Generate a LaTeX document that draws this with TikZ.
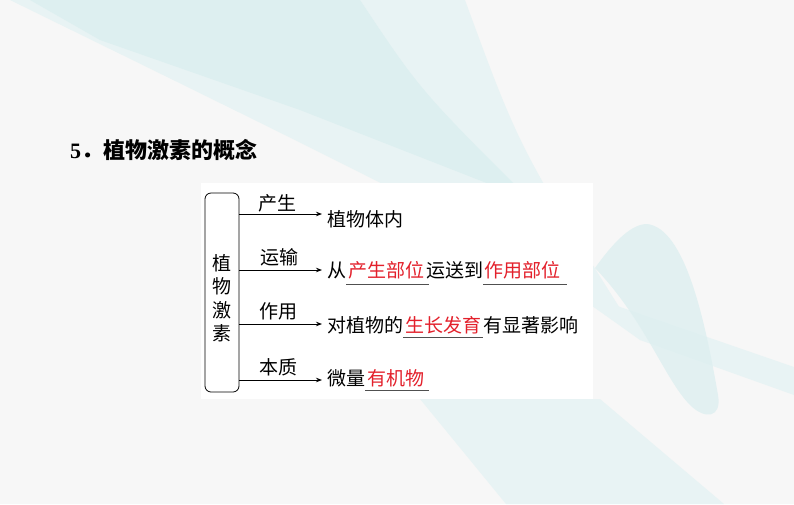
\documentclass[tikz,border=0pt]{standalone}
\usepackage{fontspec}
\setmainfont{Liberation Serif}
\newfontfamily\cjk{Noto Sans CJK SC}
\usetikzlibrary{arrows.meta}
\definecolor{bgcol}{HTML}{F7F7F7}
\definecolor{tealA}{HTML}{DDEFF0}
\definecolor{tealB}{HTML}{E8F3F4}
\definecolor{hlred}{HTML}{E3202B}
\definecolor{ulcol}{HTML}{505050}
\begin{document}
\begin{tikzpicture}[x=1pt,y=-1pt,
  txt/.style={inner sep=0pt, anchor=west, font=\cjk\fontsize{19}{19}\selectfont},
  redtxt/.style={txt, text=hlred, inner xsep=1.5pt},
  lbl/.style={inner sep=0pt, font=\cjk\fontsize{19}{19}\selectfont},
  arr/.style={-{Stealth[length=6pt,width=4.5pt]}, line width=0.8pt},
  uline/.style={draw=ulcol, line width=0.8pt}]
\useasboundingbox (0,0) rectangle (794,504);
% background
\fill[bgcol] (0,0) rectangle (794,504);
\fill[tealB] (10,0) -- (465,0) .. controls (520,150) .. (640,340) .. controls (500,240) .. (10,0) -- cycle;
\fill[tealA] (30,0) -- (360,0) .. controls (420,90) .. (530,200) -- (300,110) -- (100,40) -- cycle;
\fill[tealB] (420,399) -- (600,399) -- (724,504) -- (506,504) -- cycle;
\fill[tealB] (600,300) -- (794,367) -- (794,395) -- (640,340) -- cycle;
\fill[tealA, opacity=0.8] (595,268) .. controls (615,240) and (632,224) .. (647,224) .. controls (685,228) and (705,320) .. (718,395) .. controls (722,418) and (705,420) .. (690,405) .. controls (665,380) and (645,320) .. (595,268) -- cycle;
% title
\node[anchor=west, inner sep=0pt, font=\fontsize{22}{22}\selectfont\bfseries] (title) at (70,150) {5\cjk ．植物激素的概念};
% panel
\fill[white] (201,183) rectangle (593,399);
% box
\node[draw, rounded corners=6pt, minimum width=34pt, minimum height=199pt, line width=0.8pt, inner sep=0pt] (box) at (222,292.5) {};
\node[lbl, align=center, font=\cjk\fontsize{19}{23.5}\selectfont] (vt) at (222,298) {植\\物\\激\\素};
% arrow ends
\coordinate (a1) at (322,214);
\coordinate (a2) at (322,270);
\coordinate (a3) at (322,324);
\coordinate (a4) at (322,380);
\draw[arr] (box.east |- a1) -- (a1);
\draw[arr] (box.east |- a2) -- (a2);
\draw[arr] (box.east |- a3) -- (a3);
\draw[arr] (box.east |- a4) -- (a4);
% labels
\node[lbl] (l1) at (277,203) {产生};
\node[lbl] (l2) at (279,257) {运输};
\node[lbl] (l3) at (278,311) {作用};
\node[lbl] (l4) at (278,367) {本质};
% underline levels
\coordinate (u2) at (0,284.5);
\coordinate (u3) at (0,337);
\coordinate (u4) at (0,390.5);
% row 1
\node[txt] (r1) at (327,219) {植物体内};
% row 2
\node[txt] (r2a) at (327,270) {从};
\node[redtxt] (r2b) at (r2a.east) {产生部位};
\node[txt] (r2c) at (r2b.east) {运送到};
\node[redtxt] (r2d) at (r2c.east) {作用部位};
\draw[uline] (r2b.west |- u2) -- ([xshift=3pt]r2b.east |- u2);
\draw[uline] (r2d.west |- u2) -- ([xshift=4pt]r2d.east |- u2);
% row 3
\node[txt] (r3a) at (327,325) {对植物的};
\node[redtxt] (r3b) at (r3a.east) {生长发育};
\node[txt] (r3c) at (r3b.east) {有显著影响};
\draw[uline] (r3b.west |- u3) -- (r3b.east |- u3);
% row 4
\node[txt] (r4a) at (327,378) {微量};
\node[redtxt] (r4b) at (r4a.east) {有机物};
\draw[uline] (r4b.west |- u4) -- ([xshift=3pt]r4b.east |- u4);
\end{tikzpicture}
\end{document}
